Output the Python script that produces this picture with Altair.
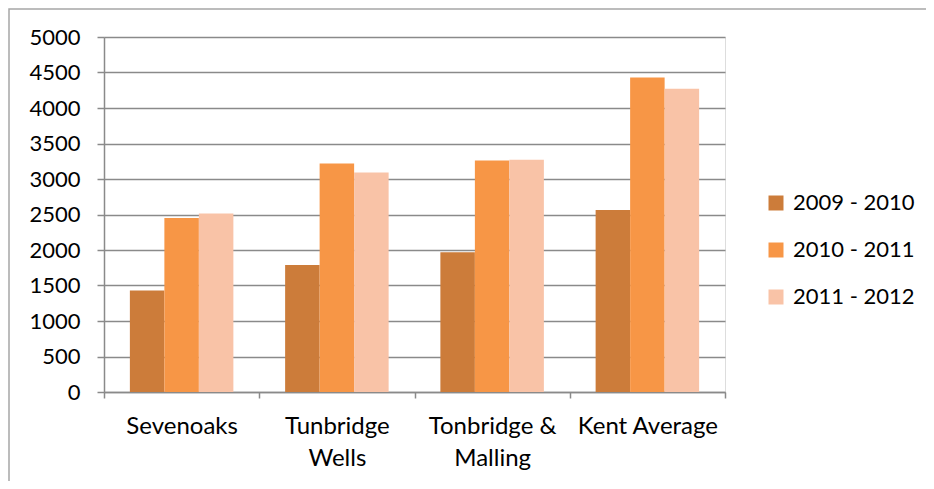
import altair as alt
import pandas as pd

areas = ["Sevenoaks", "Tunbridge Wells", "Tonbridge & Malling", "Kent Average"]
periods = ["2009 - 2010", "2010 - 2011", "2011 - 2012"]
v_2009_2010 = [1430, 1790, 1970, 2565]
v_2010_2011 = [2450, 3220, 3260, 4430]
v_2011_2012 = [2515, 3090, 3270, 4270]
colors = ["#CC7C3A", "#F79646", "#F9C3A7"]

rows = []
for series, p in zip([v_2009_2010, v_2010_2011, v_2011_2012], periods):
    for a, v in zip(areas, series):
        rows.append({"area": a, "period": p, "value": v})
df = pd.DataFrame(rows)

FONT = "Lato"
GRID = "#8a8a8a"

label_expr = ("datum.value == 'Tunbridge Wells' ? ['Tunbridge', 'Wells'] : "
              "datum.value == 'Tonbridge & Malling' ? ['Tonbridge &', 'Malling'] : datum.value")

bars = alt.Chart(df).mark_bar().encode(
    x=alt.X("area:N", sort=areas, title=None,
            scale=alt.Scale(paddingInner=0, paddingOuter=0),
            axis=alt.Axis(labelAngle=0, labelExpr=label_expr, tickBand="extent",
                          domainColor=GRID, domainWidth=1.5, tickColor=GRID, tickWidth=1.5,
                          tickSize=6, labelPadding=16, labelFontSize=24, labelFont=FONT,
                          labelColor="#000000", labelLineHeight=32, grid=False)),
    xOffset=alt.XOffset("period:N", sort=periods,
                        scale=alt.Scale(paddingOuter=0.75, paddingInner=0)),
    y=alt.Y("value:Q", title=None,
            scale=alt.Scale(domain=[0, 5000], nice=False),
            axis=alt.Axis(values=list(range(0, 5001, 500)), format="d", domainColor=GRID,
                          domainWidth=1.5, tickColor=GRID, tickWidth=1.5, tickSize=7,
                          gridColor=GRID, gridWidth=1.5, labelPadding=17, labelFontSize=22,
                          labelFont=FONT, labelColor="#000000")),
    color=alt.Color("period:N", sort=periods, scale=alt.Scale(domain=periods, range=colors),
                    legend=alt.Legend(title=None, orient="none", legendX=661, legendY=155,
                                      symbolType="square", symbolSize=225, symbolStrokeWidth=0,
                                      labelFontSize=22, labelFont=FONT, labelColor="#000000",
                                      rowPadding=25, labelOffset=6)),
)

frame_df = pd.DataFrame({"k": [0]})
frame = alt.Chart(frame_df).mark_rect(fill=None, stroke="#a6a6a6", strokeWidth=1.5,
                                      clip=False).encode(
    x=alt.value(-95), x2=alt.value(840), y=alt.value(-28), y2=alt.value(480)
)

chart = alt.layer(frame, bars).properties(
    width=621, height=355,
    autosize=alt.AutoSizeParams(type="none"),
    padding={"left": 96, "top": 29, "right": 201, "bottom": 89},
).configure_view(stroke=None).configure(background="white")

chart.save("out.html", embed_options={"renderer": "svg", "actions": False})
